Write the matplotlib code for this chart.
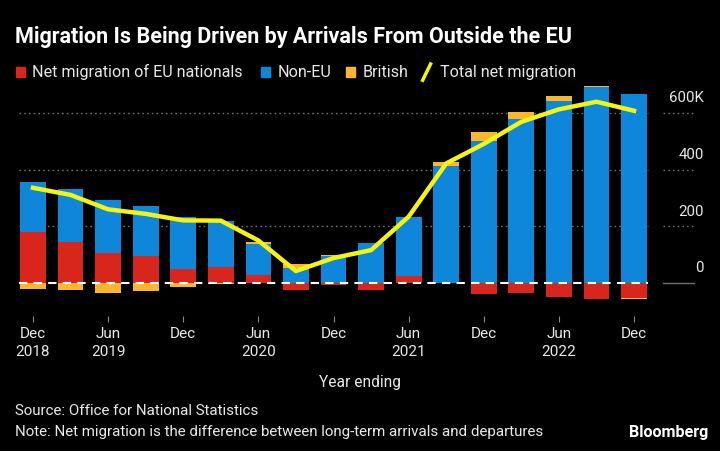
import matplotlib
matplotlib.use("Agg")
import matplotlib.pyplot as plt
import numpy as np

plt.rcParams['font.family'] = ['Roboto', 'DejaVu Sans']

# quarterly, year ending Dec 2018 .. Dec 2022 (thousands)
periods = ["Dec 2018", "Mar 2019", "Jun 2019", "Sep 2019", "Dec 2019",
           "Mar 2020", "Jun 2020", "Sep 2020", "Dec 2020", "Mar 2021",
           "Jun 2021", "Sep 2021", "Dec 2021", "Mar 2022", "Jun 2022",
           "Sep 2022", "Dec 2022"]
eu = [181, 145, 107, 96, 50, 55, 28, -25, -8, -24, 25, 0, -40, -34, -50, -58, -52]
non_eu = [174, 187, 186, 175, 184, 164, 110, 54, 94, 140, 209, 413, 502, 578, 642, 692, 666]
british = [-22, -25, -34, -28, -15, -2, 8, 12, 3, 0, 0, 13, 31, 27, 19, 4, -4]
total = [336, 311, 260, 244, 221, 220, 150, 42, 88, 116, 234, 422, 491, 569, 613, 640, 608]

tick_labels = ["Dec\n2018", "Jun\n2019", "Dec", "Jun\n2020", "Dec",
               "Jun\n2021", "Dec", "Jun\n2022", "Dec"]
y_ticks = [0, 200, 400, 600]
y_tick_labels = ["0", "200", "400", "600K"]

RED = "#d8261d"
BLUE = "#0e87da"
ORANGE = "#fbb72c"
YELLOW = "#f4f40f"
TEXT = "#e8e8e8"
GRID = "#6e6e6e"

fig = plt.figure(figsize=(7.2, 4.51), dpi=100, facecolor="black")
ax = fig.add_axes([0.0197, 0.3004, 0.887, 0.518])
ax.set_facecolor("black")

x = np.arange(len(periods))
pos_base = np.zeros(len(x))
neg_base = np.zeros(len(x))
width = 0.685
for vals, col in [(eu, RED), (non_eu, BLUE), (british, ORANGE)]:
    vals = np.array(vals, dtype=float)
    bottoms = np.where(vals >= 0, pos_base, neg_base)
    ax.bar(x, vals, width=width, bottom=bottoms, color=col, zorder=2)
    pos_base = pos_base + np.where(vals > 0, vals, 0)
    neg_base = neg_base + np.where(vals < 0, vals, 0)

ax.plot(x, total, color=YELLOW, lw=3.2, solid_joinstyle="round", zorder=4)

# grid lines
for yv in y_ticks[1:]:
    ax.hlines(yv, -0.38, 16.38, colors=GRID, linestyles=(0, (1.2, 2.2)), lw=1, zorder=1)
ax.hlines(0, -0.38, 16.38, colors="white", linestyles=(0, (4, 3)), lw=1.5, zorder=5)

ytr = ax.get_yaxis_transform()
for yv, lab in zip(y_ticks, y_tick_labels):
    ls = "-" if yv == 0 else (0, (1.2, 2.2))
    ax.plot([1.016, 1.065], [yv, yv], color=GRID, lw=1, ls=ls,
            transform=ytr, clip_on=False)
    ax.text(1.0795, yv + 52, lab, transform=ytr, ha="right", va="center",
            color=TEXT, fontsize=10.8)

ax.set_xlim(-0.5, 16.5)
ax.set_ylim(-115, 710)
ax.set_xticks(x[::2])
ax.set_xticklabels(tick_labels, color=TEXT, fontsize=11, linespacing=1.4)
ax.tick_params(axis="x", length=4, color="#8a8a8a", pad=4)
ax.set_yticks([])
for s in ax.spines.values():
    s.set_visible(False)

# title & legend
fig.text(0.021, 0.918, "Migration Is Being Driven by Arrivals From Outside the EU",
         color="white", fontsize=15.5, fontweight="bold", va="center")
leg_y = 0.84
items = [(0.022, RED, "Net migration of EU nationals"),
         (0.363, BLUE, "Non-EU"),
         (0.481, ORANGE, "British")]
for lx, col, lab in items:
    fig.patches.append(plt.Rectangle((lx, leg_y - 0.011), 0.0125, 0.022,
                                     transform=fig.transFigure, color=col))
    fig.text(lx + 0.0225, leg_y, lab, color=TEXT, fontsize=11.6, va="center")
fig.lines.append(plt.Line2D([0.587, 0.598], [leg_y - 0.018, leg_y + 0.018],
                            transform=fig.transFigure, color=YELLOW, lw=2.5))
fig.text(0.6115, leg_y, "Total net migration", color=TEXT, fontsize=11.6, va="center")

fig.text(0.5, 0.151, "Year ending", color=TEXT, fontsize=11.2, ha="center", va="center")
fig.text(0.021, 0.088, "Source: Office for National Statistics", color=TEXT,
         fontsize=10.9, va="center")
fig.text(0.021, 0.042, "Note: Net migration is the difference between long-term arrivals and departures",
         color=TEXT, fontsize=10.9, va="center")
fig.text(0.984, 0.042, "Bloomberg", color="white", fontsize=11.6, fontweight="bold",
         ha="right", va="center")

fig.savefig("out.png", dpi=100, facecolor="black")
